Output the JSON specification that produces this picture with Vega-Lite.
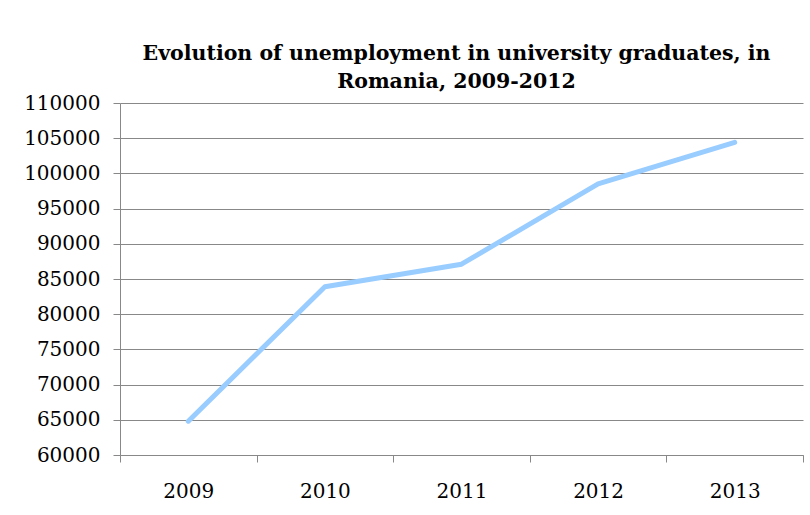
{
  "$schema": "https://vega.github.io/schema/vega-lite/v6.json",
  "autosize": {"type": "none"},
  "width": 683,
  "height": 352,
  "padding": {"left": 120, "top": 103, "right": 7, "bottom": 60},
  "background": "white",
  "title": {
    "text": ["Evolution of unemployment in university graduates, in", "Romania, 2009-2012"],
    "font": "DejaVu Serif",
    "fontSize": 20.5,
    "fontWeight": "bold",
    "color": "black",
    "lineHeight": 28,
    "anchor": "middle",
    "dx": -5,
    "offset": 1
  },
  "data": {
    "values": [
      {"year": "2009", "unemployed": 64800},
      {"year": "2010", "unemployed": 83900},
      {"year": "2011", "unemployed": 87100},
      {"year": "2012", "unemployed": 98500},
      {"year": "2013", "unemployed": 104400}
    ]
  },
  "mark": {"type": "line", "color": "#99CCFF", "strokeWidth": 5, "strokeCap": "round", "strokeJoin": "round"},
  "encoding": {
    "x": {
      "field": "year",
      "type": "ordinal",
      "scale": {"type": "band", "paddingInner": 0, "paddingOuter": 0},
      "axis": {
        "title": null,
        "labelAngle": 0,
        "tickBand": "extent",
        "labelFont": "DejaVu Serif",
        "labelFontSize": 20,
        "labelColor": "black",
        "labelPadding": 19,
        "tickSize": 7,
        "tickColor": "#888888",
        "domainColor": "#888888",
        "grid": false
      }
    },
    "y": {
      "field": "unemployed",
      "type": "quantitative",
      "scale": {"domain": [60000, 110000], "nice": false, "zero": false},
      "axis": {
        "title": null,
        "values": [60000, 65000, 70000, 75000, 80000, 85000, 90000, 95000, 100000, 105000, 110000],
        "format": "d",
        "labelFont": "DejaVu Serif",
        "labelFontSize": 20,
        "labelColor": "black",
        "labelPadding": 13,
        "tickSize": 7,
        "tickColor": "#888888",
        "domainColor": "#888888",
        "grid": true,
        "gridColor": "#888888",
        "gridOpacity": 1
      }
    }
  },
  "config": {"view": {"stroke": null}}
}
